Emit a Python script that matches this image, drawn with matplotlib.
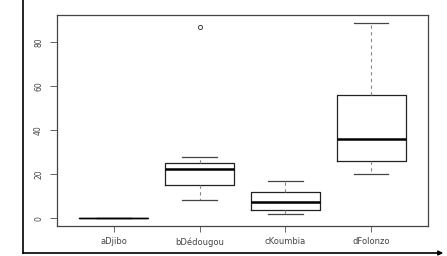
import matplotlib
matplotlib.use("Agg")
import matplotlib.pyplot as plt
from matplotlib.lines import Line2D

# values
sites = ["aDjibo", "bDédougou", "cKoumbia", "dFolonzo"]
whisker_low = [0.0, 8.2, 1.8, 20.0]
q1 = [0.0, 15.0, 3.9, 25.8]
median = [0.0, 22.3, 7.3, 35.8]
q3 = [0.0, 25.0, 11.7, 55.8]
whisker_high = [0.0, 27.7, 16.8, 88.5]
outliers = [[], [86.6], [], []]
yticks = [0, 20, 40, 60, 80]

stats = []
for i, name in enumerate(sites):
    stats.append({
        "label": name,
        "whislo": whisker_low[i],
        "q1": q1[i],
        "med": median[i],
        "q3": q3[i],
        "whishi": whisker_high[i],
        "fliers": outliers[i],
    })

fig = plt.figure(figsize=(4.47, 2.56), dpi=100)
ax = fig.add_axes([57 / 447, 1 - 226 / 256, 371 / 447, 211 / 256])

parts = ax.bxp(
    stats,
    positions=range(1, len(sites) + 1),
    widths=0.8,
    showfliers=True,
    boxprops=dict(color="#222222", linewidth=0.9),
    medianprops=dict(color="black", linewidth=1.8),
    whiskerprops=dict(color="#888888", linewidth=0.8, linestyle=(0, (3, 3))),
    capprops=dict(color="#444444", linewidth=0.9),
    flierprops=dict(marker="o", markersize=3, markerfacecolor="none",
                    markeredgecolor="#444444", markeredgewidth=0.7),
)
# the all-zero box collapses to a single thin line
parts["medians"][0].set_linewidth(1.0)

ax.set_xlim(0.34, 4.66)
ax.set_ylim(-3.54, 92.1)
ax.set_yticks(yticks)
ax.set_yticklabels([str(v) for v in yticks], rotation=90, va="center",
                   fontsize=5.5, color="#444444")
ax.tick_params(axis="y", length=5, width=0.7, color="#666666", pad=5)
ax.tick_params(axis="x", length=4, width=0.7, color="#666666", pad=4,
               labelsize=6, labelcolor="#444444")
for sp in ax.spines.values():
    sp.set_color("#444444")
    sp.set_linewidth(0.9)

# outer frame lines: left vertical and bottom arrow
fig.add_artist(Line2D([23 / 447, 23 / 447], [1.0, 1 - 253 / 256],
                      transform=fig.transFigure, color="black", linewidth=1.2))
fig.add_artist(Line2D([23 / 447, 440 / 447], [1 - 253 / 256, 1 - 253 / 256],
                      transform=fig.transFigure, color="black", linewidth=1.2))
ax.annotate("", xy=(446 / 447, 1 - 253 / 256), xytext=(436 / 447, 1 - 253 / 256),
            xycoords="figure fraction", textcoords="figure fraction",
            arrowprops=dict(arrowstyle="-|>", color="black", lw=1.0,
                            mutation_scale=7))

fig.savefig("out.png", dpi=100)
